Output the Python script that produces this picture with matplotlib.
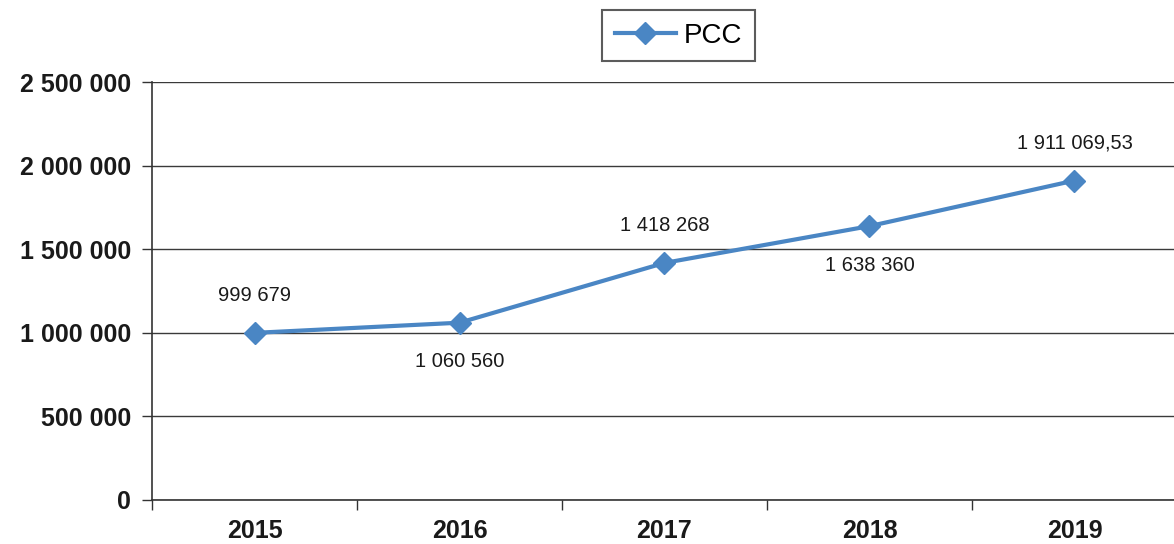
import matplotlib.pyplot as plt
from matplotlib.ticker import FuncFormatter

years = ['2015', '2016', '2017', '2018', '2019']
pcc = [999679, 1060560, 1418268, 1638360, 1911069.53]
labels = ['999 679', '1 060 560', '1 418 268', '1 638 360', '1 911 069,53']
label_above = [True, False, True, False, True]

plt.rcParams['font.family'] = ['Liberation Sans', 'DejaVu Sans']

fig = plt.figure(figsize=(11.74, 5.44), dpi=100)
ax = fig.add_axes([0.1295, 0.081, 0.873, 0.768])

x = list(range(len(years)))
ax.plot(x, pcc, color='#4a86c4', linewidth=3, marker='D', markersize=11,
        markerfacecolor='#4a86c4', markeredgecolor='#4a86c4', label='PCC', zorder=3)

for xi, yi, txt, up in zip(x, pcc, labels, label_above):
    ax.annotate(txt, (xi, yi), xytext=(0, 27 if up else -28), textcoords='offset points',
                ha='center', va='center', fontsize=14.5, color='#1a1a1a')

ax.set_xlim(-0.5, len(years) - 0.5)
ax.set_ylim(0, 2500000)
ax.set_yticks(range(0, 2500001, 500000))
ax.yaxis.set_major_formatter(FuncFormatter(lambda v, p: f'{int(v):,}'.replace(',', ' ')))
ax.grid(axis='y', color='#3a3a3a', linewidth=1)
ax.set_axisbelow(True)

ax.set_xticks(x)
ax.set_xticklabels(years, fontsize=18, fontweight='bold', color='#1a1a1a')
ax.set_xticks([i + 0.5 for i in x[:-1]] + [-0.5], minor=True)
ax.tick_params(axis='x', which='major', length=0, pad=14)
ax.tick_params(axis='x', which='minor', length=7, width=1, color='#333333', direction='out')
ax.tick_params(axis='y', length=7, width=1, color='#333333', labelsize=18, pad=8,
               labelcolor='#1a1a1a')
for lbl in ax.get_yticklabels():
    lbl.set_fontweight('bold')

for side in ['top', 'right']:
    ax.spines[side].set_visible(False)
ax.spines['left'].set_color('#333333')
ax.spines['bottom'].set_color('#333333')
ax.spines['left'].set_linewidth(1.2)
ax.spines['bottom'].set_linewidth(1.2)

leg = fig.legend(loc='center', bbox_to_anchor=(0.578, 0.934), frameon=True, fancybox=False,
                 handlelength=2.2, borderpad=0.45, handletextpad=0.3,
                 prop={'size': 20})
leg.get_frame().set_edgecolor('#333333')
leg.get_frame().set_linewidth(1.5)

fig.savefig('out.png', dpi=100, facecolor='white')
